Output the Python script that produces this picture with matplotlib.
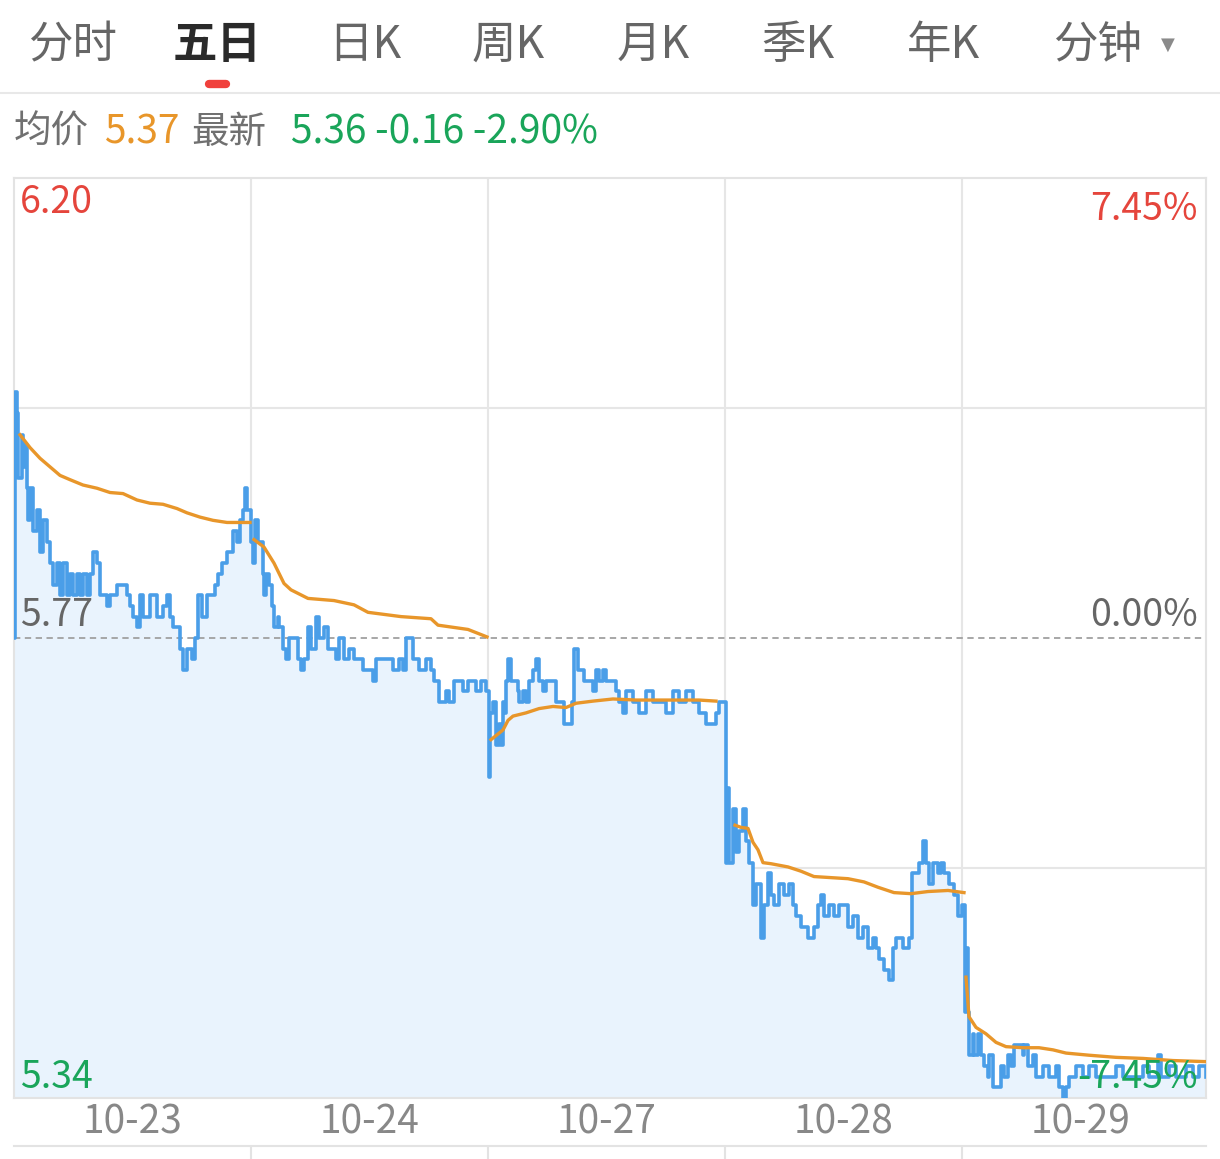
import numpy as np
import matplotlib.pyplot as plt
from matplotlib.lines import Line2D

plt.rcParams['font.family'] = ['Noto Sans CJK SC', 'DejaVu Sans']

# ---- data ----
dates = ['10-23', '10-24', '10-27', '10-28', '10-29']
tabs = ['分时', '五日', '日K', '周K', '月K', '季K', '年K', '分钟']
prev_close = 5.77
y_lo, y_hi = 5.34, 6.20

# minute offsets within each day and price at that minute
d1_min = [0, 1, 3, 4, 8, 9, 11, 13, 14, 16, 19, 23, 26, 29, 33, 36, 39, 43, 46, 49,
          53, 56, 59, 63, 66, 69, 73, 76, 79, 83, 86, 93, 96, 103, 113, 116, 119, 123,
          126, 129, 136, 143, 149, 153, 156, 159, 164, 166, 169, 173, 178, 181, 184,
          188, 193, 198, 201, 204, 208, 213, 216, 219, 223, 226, 229, 231, 233, 236]
d1_px = [5.77, 6.00, 5.98, 5.92, 5.96, 5.93, 5.95, 5.91, 5.88, 5.91, 5.87, 5.89, 5.85,
         5.88, 5.86, 5.84, 5.82, 5.84, 5.81, 5.84, 5.81, 5.83, 5.81, 5.83, 5.81, 5.83,
         5.81, 5.83, 5.85, 5.84, 5.81, 5.80, 5.81, 5.82, 5.81, 5.80, 5.79, 5.78, 5.81,
         5.79, 5.81, 5.79, 5.80, 5.81, 5.79, 5.78, 5.78, 5.76, 5.74, 5.76, 5.75, 5.77,
         5.81, 5.79, 5.81, 5.81, 5.82, 5.83, 5.84, 5.85, 5.85, 5.87, 5.86, 5.88, 5.89,
         5.91, 5.89, 5.89]

d2_min = [0, 2, 4, 7, 10, 12, 13, 15, 18, 21, 23, 27, 28, 32, 35, 38, 43, 47, 50, 53,
          57, 60, 65, 68, 73, 77, 82, 85, 88, 93, 98, 103, 108, 112, 118, 122, 125, 132,
          138, 142, 148, 152, 155, 158, 162, 168, 175, 180, 183, 188, 195, 198, 203,
          212, 217, 225, 230, 235]
d2_px = [5.86, 5.84, 5.88, 5.86, 5.86, 5.83, 5.81, 5.83, 5.82, 5.80, 5.78, 5.79, 5.78,
         5.76, 5.75, 5.77, 5.77, 5.75, 5.74, 5.75, 5.78, 5.76, 5.79, 5.77, 5.78, 5.76,
         5.76, 5.75, 5.77, 5.75, 5.76, 5.75, 5.75, 5.74, 5.74, 5.73, 5.75, 5.75, 5.75,
         5.74, 5.75, 5.74, 5.77, 5.77, 5.75, 5.74, 5.75, 5.74, 5.73, 5.71, 5.72, 5.71,
         5.73, 5.72, 5.73, 5.72, 5.73, 5.72]

d3_min = [1, 2, 5, 8, 11, 13, 15, 16, 18, 20, 23, 26, 30, 31, 35, 38, 41, 45, 48, 51,
          55, 58, 65, 68, 73, 76, 81, 84, 86, 90, 93, 96, 101, 105, 108, 111, 115, 118,
          123, 128, 131, 135, 138, 145, 151, 158, 165, 171, 178, 185, 191, 198, 205,
          211, 218, 225, 228, 231, 236]
d3_px = [5.64, 5.70, 5.71, 5.67, 5.69, 5.67, 5.71, 5.70, 5.73, 5.75, 5.73, 5.73, 5.72,
         5.71, 5.72, 5.71, 5.73, 5.74, 5.75, 5.73, 5.72, 5.73, 5.73, 5.71, 5.71, 5.69,
         5.69, 5.71, 5.76, 5.74, 5.74, 5.73, 5.73, 5.72, 5.74, 5.73, 5.74, 5.73, 5.73,
         5.72, 5.71, 5.70, 5.72, 5.71, 5.70, 5.72, 5.71, 5.71, 5.70, 5.72, 5.71, 5.72,
         5.71, 5.70, 5.69, 5.69, 5.70, 5.71, 5.71]

d4_min = [1, 2, 4, 8, 11, 14, 18, 21, 24, 28, 31, 36, 39, 43, 46, 49, 54, 59, 64, 68,
          71, 76, 81, 83, 89, 93, 96, 99, 104, 109, 114, 119, 123, 128, 133, 138, 143,
          148, 151, 154, 159, 164, 168, 171, 178, 184, 187, 191, 194, 198, 201, 204,
          208, 213, 216, 219, 224, 229, 233, 237]
d4_px = [5.56, 5.63, 5.56, 5.61, 5.57, 5.59, 5.61, 5.58, 5.56, 5.52, 5.54, 5.49, 5.52,
         5.55, 5.53, 5.52, 5.54, 5.53, 5.54, 5.52, 5.51, 5.50, 5.50, 5.49, 5.50, 5.52,
         5.53, 5.51, 5.52, 5.51, 5.52, 5.52, 5.50, 5.51, 5.49, 5.50, 5.48, 5.49, 5.48,
         5.47, 5.46, 5.45, 5.48, 5.49, 5.48, 5.49, 5.55, 5.55, 5.56, 5.58, 5.56, 5.54,
         5.56, 5.55, 5.56, 5.55, 5.54, 5.53, 5.51, 5.52]

d5_min = [3, 4, 6, 7, 11, 12, 16, 19, 22, 26, 27, 31, 36, 39, 42, 46, 49, 52, 57, 61,
          62, 66, 71, 74, 81, 87, 94, 97, 101, 104, 107, 114, 121, 127, 134, 144, 154,
          161, 171, 181, 187, 196, 199, 207, 214, 224, 231, 237, 244]
d5_px = [5.42, 5.48, 5.42, 5.38, 5.40, 5.38, 5.40, 5.38, 5.37, 5.36, 5.38, 5.35, 5.35,
         5.37, 5.36, 5.38, 5.37, 5.39, 5.39, 5.38, 5.39, 5.37, 5.38, 5.36, 5.37, 5.36,
         5.37, 5.35, 5.34, 5.35, 5.36, 5.37, 5.36, 5.37, 5.36, 5.36, 5.37, 5.36, 5.36,
         5.37, 5.36, 5.38, 5.36, 5.37, 5.36, 5.37, 5.36, 5.37, 5.36]

# average price line per day
a1_min = [6, 16, 26, 36, 46, 56, 69, 83, 96, 109, 123, 136, 149, 163, 173, 186, 199, 213, 236]
a1_px = [5.960, 5.948, 5.938, 5.930, 5.922, 5.918, 5.913, 5.910, 5.906, 5.905, 5.899,
         5.896, 5.895, 5.891, 5.887, 5.883, 5.880, 5.878, 5.878]
a2_min = [3, 13, 23, 33, 40, 57, 83, 103, 117, 150, 180, 187, 217, 236]
a2_px = [5.862, 5.855, 5.840, 5.821, 5.815, 5.807, 5.805, 5.801, 5.794, 5.790, 5.788,
         5.782, 5.778, 5.771]
a3_min = [3, 15, 20, 25, 38, 51, 65, 78, 88, 105, 125, 148, 181, 211, 228]
a3_px = [5.675, 5.684, 5.693, 5.697, 5.700, 5.704, 5.706, 5.705, 5.709, 5.711, 5.713,
         5.712, 5.712, 5.712, 5.711]
a4_min = [10, 16, 23, 28, 33, 38, 46, 63, 76, 89, 106, 123, 139, 153, 169, 186, 203, 223, 239]
a4_px = [5.595, 5.593, 5.592, 5.579, 5.572, 5.560, 5.559, 5.556, 5.552, 5.547, 5.546,
         5.545, 5.542, 5.537, 5.532, 5.531, 5.533, 5.534, 5.532]
a5_min = [4, 7, 14, 24, 34, 44, 61, 77, 91, 104, 127, 154, 181, 211, 244]
a5_px = [5.453, 5.416, 5.406, 5.400, 5.392, 5.388, 5.387, 5.387, 5.385, 5.382, 5.380,
         5.378, 5.377, 5.375, 5.374]

price_days = [(d1_min, d1_px), (d2_min, d2_px), (d3_min, d3_px), (d4_min, d4_px), (d5_min, d5_px)]
avg_days = [(a1_min, a1_px), (a2_min, a2_px), (a3_min, a3_px), (a4_min, a4_px), (a5_min, a5_px)]
DAY = 237

W, H = 1220, 1159
fig = plt.figure(figsize=(W / 100, H / 100), dpi=100)
fig.patch.set_facecolor('white')


def fx(x):
    return x / W


def fy(y):
    return 1 - y / H


# ---- tabs ----
tab_x = [73, 217, 365, 508, 653, 798, 943, 1098]
for t, x in zip(tabs, tab_x):
    active = t == '五日'
    fig.text(fx(x), fy(45), t, ha='center', va='center', fontsize=32,
             color='#2a2a2a' if active else '#666666',
             fontweight='bold' if active else 'normal')
fig.text(fx(1168), fy(45), '▼', ha='center', va='center', fontsize=13,
         color='#8a8a8a', family=['DejaVu Sans'])
fig.add_artist(Line2D([fx(209), fx(226)], [fy(84), fy(84)], lw=6, color='#f0403c',
                      solid_capstyle='round'))
fig.add_artist(Line2D([0, 1], [fy(93), fy(93)], lw=1.5, color='#e8e8e8'))

# ---- info line ----
fig.text(fx(14), fy(132), '均价', ha='left', va='center', fontsize=27, color='#707070')
fig.text(fx(104), fy(133), '5.37', ha='left', va='center', fontsize=28, color='#e8962a',
         fontweight='medium')
fig.text(fx(191), fy(132), '最新', ha='left', va='center', fontsize=27, color='#707070')
fig.text(fx(291), fy(133), '5.36 -0.16 -2.90%', ha='left', va='center', fontsize=28,
         color='#1aa55a', fontweight='medium')

# ---- main chart ----
ax = fig.add_axes([fx(14), fy(1098), (1206 - 14) / W, (1098 - 178) / H])
ax.set_xlim(0, 1192)
ax.set_ylim(y_lo, y_hi)

xs, ps = [], []
for d, (mins, pxs) in enumerate(price_days):
    xs += [d * DAY + m for m in mins]
    ps += pxs
xs = np.array(xs)
ps = np.array(ps)
ax.fill_between(xs, ps, y_lo, color='#e9f3fd', lw=0, zorder=1, step='post')

q = (y_hi - y_lo) / 4
for yv in [y_lo + q, y_hi - q]:
    ax.axhline(yv, color='#e6e6e6', lw=1.5, zorder=0)
for d in range(1, 5):
    ax.axvline(d * DAY, color='#e6e6e6', lw=1.5, zorder=0)
ax.axhline(prev_close, color='#a0a0a0', lw=1.3, ls=(0, (3.5, 2.5)), zorder=2)

ax.plot(xs, ps, color='#4a9ee8', lw=2.6, zorder=3, drawstyle='steps-post')
for d, (mins, avs) in enumerate(avg_days):
    ax.plot([d * DAY + m for m in mins], avs, color='#e8962a', lw=2.4, zorder=4)

for s in ax.spines.values():
    s.set_color('#e3e3e3')
    s.set_linewidth(1.5)
ax.set_xticks([])
ax.set_yticks([])

# axis value labels
pct = (y_hi - prev_close) / prev_close * 100
fs = 27
fw = 'medium'
fig.text(fx(20), fy(202), f'{y_hi:.2f}', ha='left', va='center', fontsize=fs, color='#e5453c', fontweight=fw)
fig.text(fx(1198), fy(209), f'{pct:.2f}%', ha='right', va='center', fontsize=fs, color='#e5453c', fontweight=fw)
fig.text(fx(20), fy(615), f'{prev_close:.2f}', ha='left', va='center', fontsize=fs, color='#666666', fontweight=fw)
fig.text(fx(1198), fy(615), '0.00%', ha='right', va='center', fontsize=fs, color='#666666', fontweight=fw)
fig.text(fx(20), fy(1077), f'{y_lo:.2f}', ha='left', va='center', fontsize=fs, color='#1aa55a', fontweight=fw)
fig.text(fx(1198), fy(1077), f'-{pct:.2f}%', ha='right', va='center', fontsize=fs,
         color='#1aa55a', zorder=10, fontweight=fw)

# date labels
for d, lab in enumerate(dates):
    xc = 14 + d * DAY + 118.5
    fig.text(fx(xc), fy(1123), lab, ha='center', va='center', fontsize=28, color='#888888',
             fontweight=fw)

# top of the volume panel
ax2 = fig.add_axes([fx(14), 0, (1206 - 14) / W, (H - 1146) / H])
ax2.set_xlim(0, 1192)
for d in range(1, 5):
    ax2.axvline(d * DAY, color='#e3e3e3', lw=1.5)
for k, s in ax2.spines.items():
    s.set_visible(k == 'top')
    s.set_color('#e3e3e3')
    s.set_linewidth(1.5)
ax2.set_xticks([])
ax2.set_yticks([])

fig.savefig('out.png', dpi=100, facecolor='white')
